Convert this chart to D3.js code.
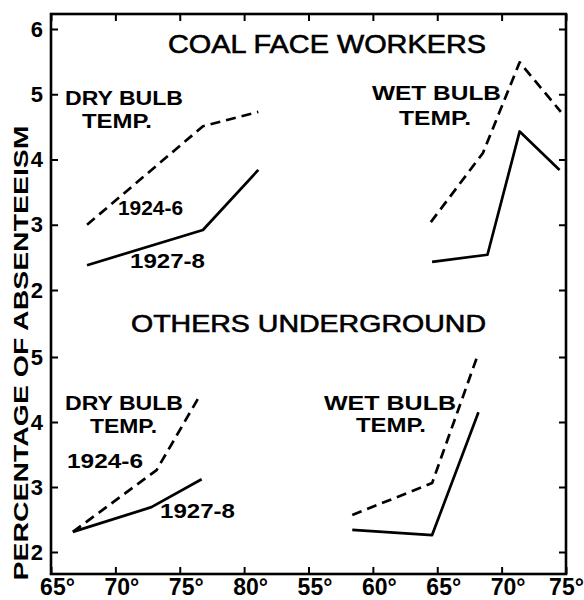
<!DOCTYPE html>
<html>
<head>
<meta charset="utf-8">
<script src="https://cdn.jsdelivr.net/npm/d3@7"></script>
<style>
    body { margin: 0; background: #fff; }
    text { font-family: "Liberation Sans", Arial, sans-serif; fill: #000; }
</style>
</head>
<body>
<svg id="chart" width="584" height="600"></svg>
<script>
// temperatures (deg F) and absenteeism (%)
var dryTicks = [65, 70, 75, 80];
var wetTicks = [55, 60, 65, 70, 75];
var topTicks = [2, 3, 4, 5, 6];
var botTicks = [2, 3, 4, 5];

var coalDryT = [67.8, 76.8, 81.1];
var coalDry1924 = [3.0, 4.51, 4.73];
var coalDry1927 = [2.38, 2.92, 3.84];

var coalWetT1924 = [64.5, 68.55, 71.4, 74.6];
var coalWet1924 = [3.04, 4.10, 5.49, 4.73];
var coalWetT1927 = [64.6, 68.9, 71.4, 74.5];
var coalWet1927 = [2.43, 2.54, 4.43, 3.84];

var otherDryT1924 = [66.7, 73.2, 76.6];
var otherDry1924 = [2.31, 3.26, 4.42];
var otherDryT1927 = [66.7, 72.8, 76.7];
var otherDry1927 = [2.31, 2.69, 3.12];

var otherWetT = [58.4, 64.6, 68.2];
var otherWet1924 = [2.57, 3.06, 5.06];
var otherWet1927 = [2.34, 2.26, 4.15];

(function () {
    var left = 51, right = 566, top = 14, bottom = 574;
    var step = (right - left) / 8;

    var xDry = d3.scaleLinear().domain([65, 80]).range([left, left + 3 * step]);
    var xWet = d3.scaleLinear().domain([55, 75]).range([left + 4 * step, right]);
    var yTop = d3.scaleLinear().domain([2, 6]).range([290, 29]);
    var yBot = d3.scaleLinear().domain([2, 5]).range([552, 357]);

    var svg = d3.select('#chart');

    // frame
    svg.append('rect')
        .attr('x', left).attr('y', top)
        .attr('width', right - left).attr('height', bottom - top)
        .attr('fill', 'none').attr('stroke', '#000').attr('stroke-width', 2.6);

    function styleAxis(g, size) {
        g.select('.domain').remove();
        g.selectAll('line').attr('stroke', '#000').attr('stroke-width', 2);
        g.selectAll('text')
            .attr('font-family', '"Liberation Sans", Arial, sans-serif')
            .attr('font-weight', 'bold')
            .attr('font-size', size);
    }

    // bottom axis with labels
    var fmt = function (d) { return d + '\u00b0'; };
    [[xDry, dryTicks], [xWet, wetTicks]].forEach(function (p) {
        var g = svg.append('g')
            .attr('transform', 'translate(0,' + bottom + ')')
            .call(d3.axisBottom(p[0]).tickValues(p[1]).tickSize(-7).tickPadding(5).tickFormat(fmt));
        styleAxis(g, 23);
        g.selectAll('text').attr('dx', function (d) { return d === 75 && p[0] === xWet ? 0 : 6; });
    });

    // top edge ticks
    [[xDry, dryTicks], [xWet, wetTicks]].forEach(function (p) {
        var g = svg.append('g')
            .attr('transform', 'translate(0,' + top + ')')
            .call(d3.axisTop(p[0]).tickValues(p[1]).tickSize(-7).tickFormat(''));
        styleAxis(g, 0);
    });

    // left axis
    [[yTop, topTicks], [yBot, botTicks]].forEach(function (p) {
        var g = svg.append('g')
            .attr('transform', 'translate(' + left + ',0)')
            .call(d3.axisLeft(p[0]).tickValues(p[1]).tickSize(-7).tickPadding(8).tickFormat(d3.format('d')));
        styleAxis(g, 22);
    });

    // right edge ticks
    [[yTop, topTicks], [yBot, botTicks]].forEach(function (p) {
        var g = svg.append('g')
            .attr('transform', 'translate(' + right + ',0)')
            .call(d3.axisRight(p[0]).tickValues(p[1]).tickSize(-7).tickFormat(''));
        styleAxis(g, 0);
    });

    // lines
    function plot(xs, ys, tx, vals, dashed) {
        var line = d3.line()
            .x(function (d) { return xs(d[0]); })
            .y(function (d) { return ys(d[1]); });
        svg.append('path')
            .datum(d3.zip(tx, vals))
            .attr('d', line)
            .attr('fill', 'none')
            .attr('stroke', '#000')
            .attr('stroke-width', 2.7)
            .attr('stroke-linejoin', 'round')
            .attr('stroke-dasharray', dashed ? '10,6' : null);
    }

    plot(xDry, yTop, coalDryT, coalDry1924, true);
    plot(xDry, yTop, coalDryT, coalDry1927, false);
    plot(xWet, yTop, coalWetT1924, coalWet1924, true);
    plot(xWet, yTop, coalWetT1927, coalWet1927, false);
    plot(xDry, yBot, otherDryT1924, otherDry1924, true);
    plot(xDry, yBot, otherDryT1927, otherDry1927, false);
    plot(xWet, yBot, otherWetT, otherWet1924, true);
    plot(xWet, yBot, otherWetT, otherWet1927, false);

    // texts
    function label(txt, x, y, size, width, bold) {
        var t = svg.append('text')
            .attr('x', x).attr('y', y)
            .attr('font-size', size)
            .attr('font-weight', bold ? 'bold' : 'normal')
            .attr('textLength', width)
            .attr('lengthAdjust', 'spacingAndGlyphs')
            .text(txt);
        if (!bold) t.attr('stroke', '#000').attr('stroke-width', 0.6);
        return t;
    }

    label('COAL FACE WORKERS', 168, 53, 25, 318, false);
    label('OTHERS UNDERGROUND', 131, 332, 24, 355, false);

    label('DRY BULB', 65, 105, 21, 118, true);
    label('TEMP.', 82, 128, 21, 70, true);
    label('1924-6', 118, 215, 21, 65, true);
    label('1927-8', 130, 268, 21, 75, true);
    label('WET BULB', 372, 100, 21, 129, true);
    label('TEMP.', 399, 125, 21, 72, true);

    label('DRY BULB', 65, 410, 21, 118, true);
    label('TEMP.', 90, 433, 21, 67, true);
    label('1924-6', 67, 468, 21, 76, true);
    label('1927-8', 160, 518, 21, 75, true);
    label('WET BULB', 324, 410, 21, 132, true);
    label('TEMP.', 356, 432, 21, 70, true);

    svg.append('text')
        .attr('transform', 'translate(28,353) rotate(-90)')
        .attr('text-anchor', 'middle')
        .attr('font-size', 21)
        .attr('font-weight', 'bold')
        .attr('textLength', 455)
        .attr('lengthAdjust', 'spacingAndGlyphs')
        .text('PERCENTAGE OF ABSENTEEISM');
}());
</script>
</body>
</html>
